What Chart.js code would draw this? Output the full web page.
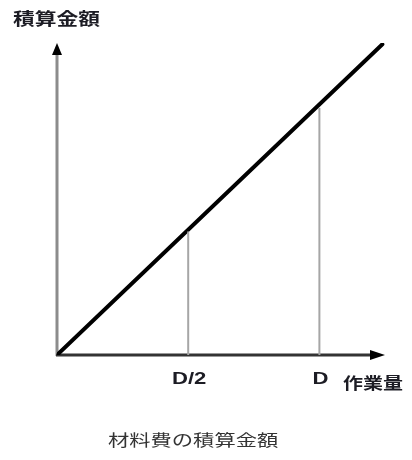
<!DOCTYPE html>
<html lang="ja">
<head>
    <meta charset="UTF-8">
    <title>材料費の積算金額</title>
    <script src="https://cdn.jsdelivr.net/npm/chart.js"></script>
    <style>
        body { margin: 0; background: #fff; }
        #wrap { width: 412px; height: 460px; }
    </style>
</head>
<body>
    <div id="wrap">
        <canvas id="costChart" width="412" height="460"></canvas>
    </div>

    <script>
        // data (x in units of D/2, y in same units)
        const lineX = [0, 2.48];
        const lineY = [0, 2.49];
        const markX = [1, 2];
        const markTop = [0.99, 1.98];
        const tickLabels = ['D/2', 'D'];
        const xTitle = '作業量';
        const yTitle = '積算金額';
        const caption = '材料費の積算金額';

        const xMax = 2.5;
        const yMax = 2.5;

        // the picture is stretched sideways, so text is too
        function stretchedText(ctx, text, x, y, font, sx, align, color) {
            ctx.save();
            ctx.font = font;
            ctx.fillStyle = color;
            ctx.textBaseline = 'middle';
            ctx.textAlign = 'left';
            const w = ctx.measureText(text).width * sx;
            let left = x;
            if (align === 'center') left = x - w / 2;
            ctx.translate(left, y);
            ctx.scale(sx, 1);
            ctx.fillText(text, 0, 0);
            ctx.restore();
        }

        const axesPlugin = {
            id: 'arrowAxes',
            beforeDatasetsDraw(chart) {
                const ctx = chart.ctx;
                const xs = chart.scales.x;
                const ys = chart.scales.y;
                const x0 = xs.getPixelForValue(0);
                const y0 = ys.getPixelForValue(0);
                const xEnd = xs.getPixelForValue(xMax);
                const yEnd = ys.getPixelForValue(yMax);
                ctx.save();
                // y axis
                ctx.strokeStyle = '#8c8c8c';
                ctx.lineWidth = 3;
                ctx.beginPath();
                ctx.moveTo(x0, y0 + 1);
                ctx.lineTo(x0, yEnd + 10);
                ctx.stroke();
                ctx.fillStyle = '#000';
                ctx.beginPath();
                ctx.moveTo(x0, yEnd);
                ctx.lineTo(x0 - 5, yEnd + 12);
                ctx.lineTo(x0 + 5, yEnd + 12);
                ctx.closePath();
                ctx.fill();
                // x axis
                ctx.strokeStyle = '#333';
                ctx.lineWidth = 3;
                ctx.beginPath();
                ctx.moveTo(x0 - 1, y0);
                ctx.lineTo(xEnd - 12, y0);
                ctx.stroke();
                ctx.fillStyle = '#000';
                ctx.beginPath();
                ctx.moveTo(xEnd, y0);
                ctx.lineTo(xEnd - 15, y0 - 5);
                ctx.lineTo(xEnd - 15, y0 + 5);
                ctx.closePath();
                ctx.fill();
                ctx.restore();
            },
            afterDraw(chart) {
                const ctx = chart.ctx;
                const xs = chart.scales.x;
                const y0 = chart.scales.y.getPixelForValue(0);
                const dark = '#1c1c24';
                tickLabels.forEach((t, i) => {
                    stretchedText(ctx, t, xs.getPixelForValue(markX[i]) + 1, y0 + 24,
                        'bold 17px "Liberation Sans", Arial, sans-serif', 1.3, 'center', dark);
                });
                stretchedText(ctx, xTitle, 343, y0 + 28,
                    'bold 16px "Noto Sans CJK JP", sans-serif', 1.25, 'left', dark);
                stretchedText(ctx, yTitle, 13, 19,
                    'bold 17px "Noto Sans CJK JP", sans-serif', 1.28, 'left', dark);
                stretchedText(ctx, caption, 108, 440,
                    '16px "Noto Sans CJK JP", sans-serif', 1.33, 'left', '#333');
            }
        };

        const lineData = lineX.map((x, i) => ({ x: x, y: lineY[i] }));
        const markSets = markX.map((x, i) => ({
            data: [{ x: x, y: 0 }, { x: x, y: markTop[i] }],
            showLine: true,
            borderColor: '#a6a6a6',
            borderWidth: 2,
            pointRadius: 0
        }));

        new Chart(document.getElementById('costChart').getContext('2d'), {
            type: 'scatter',
            data: {
                datasets: [
                    ...markSets,
                    {
                        data: lineData,
                        showLine: true,
                        borderColor: '#000',
                        borderWidth: 4,
                        borderCapStyle: 'round',
                        pointRadius: 0
                    }
                ]
            },
            options: {
                responsive: false,
                animation: false,
                layout: { padding: { left: 57, right: 27, top: 43, bottom: 105 } },
                plugins: { legend: { display: false }, tooltip: { enabled: false } },
                scales: {
                    x: { type: 'linear', min: 0, max: xMax, display: false },
                    y: { type: 'linear', min: 0, max: yMax, display: false }
                }
            },
            plugins: [axesPlugin]
        });
    </script>
</body>
</html>
